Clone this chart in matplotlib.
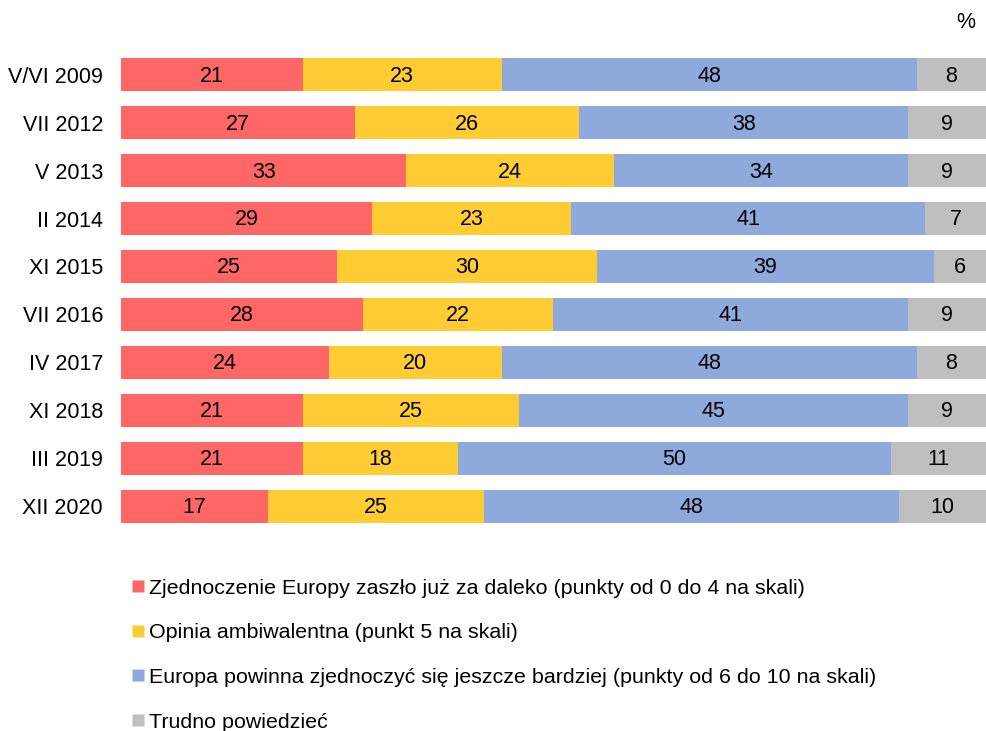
import matplotlib
matplotlib.use("Agg")
import matplotlib.pyplot as plt
from matplotlib.lines import Line2D
import numpy as np

plt.rcParams['font.family'] = ['Liberation Sans', 'DejaVu Sans']

periods = ["V/VI 2009", "VII 2012", "V 2013", "II 2014", "XI 2015",
           "VII 2016", "IV 2017", "XI 2018", "III 2019", "XII 2020"]
too_far = [21, 27, 33, 29, 25, 28, 24, 21, 21, 17]
ambivalent = [23, 26, 24, 23, 30, 22, 20, 25, 18, 25]
more_united = [48, 38, 34, 41, 39, 41, 48, 45, 50, 48]
hard_to_say = [8, 9, 9, 7, 6, 9, 8, 9, 11, 10]

series_labels = [
    "Zjednoczenie Europy zaszło już za daleko (punkty od 0 do 4 na skali)",
    "Opinia ambiwalentna (punkt 5 na skali)",
    "Europa powinna zjednoczyć się jeszcze bardziej (punkty od 6 do 10 na skali)",
    "Trudno powiedzieć",
]
colors = ["#FF6666", "#FFCC33", "#8EA9DB", "#BFBFBF"]

W, H = 987, 731
fig = plt.figure(figsize=(W / 100, H / 100), dpi=100)
ax = fig.add_axes([121 / W, 1 - 530.2 / H, 865 / W, (530.2 - 50.7) / H])

y = np.arange(len(periods))
left = np.zeros(len(periods))
fs = 15.5
for vals, col in zip([too_far, ambivalent, more_united, hard_to_say], colors):
    vals = np.array(vals, dtype=float)
    ax.barh(y, vals, left=left, height=0.68, color=col, edgecolor='none')
    for yi, l, v in zip(y, left, vals):
        ax.text(l + v / 2, yi + 0.03, f"{int(v)}", ha='center', va='center',
                fontsize=fs, color='black')
    left += vals

ax.set_xlim(0, 100)
ax.set_ylim(len(periods) - 0.5, -0.5)
ax.set_yticks(y)
ax.set_yticklabels(periods, fontsize=fs)
ax.tick_params(axis='y', length=0, pad=13)
ax.set_xticks([])
for s in ax.spines.values():
    s.set_visible(False)

fig.text(966 / W, 1 - 22 / H, "%", ha='center', va='center', fontsize=fs)

lfs = 15.4
handles = [Line2D([0], [0], marker='s', linestyle='none', markersize=8,
                  markerfacecolor=c, markeredgecolor='none') for c in colors]
fig.legend(handles, series_labels, loc='upper left',
           bbox_to_anchor=(131 / W, 1 - 578.5 / H), frameon=False,
           fontsize=lfs, handlelength=0.7, handletextpad=0.12,
           labelspacing=1.2, borderaxespad=0, borderpad=0)

fig.savefig("out.png", dpi=100)
